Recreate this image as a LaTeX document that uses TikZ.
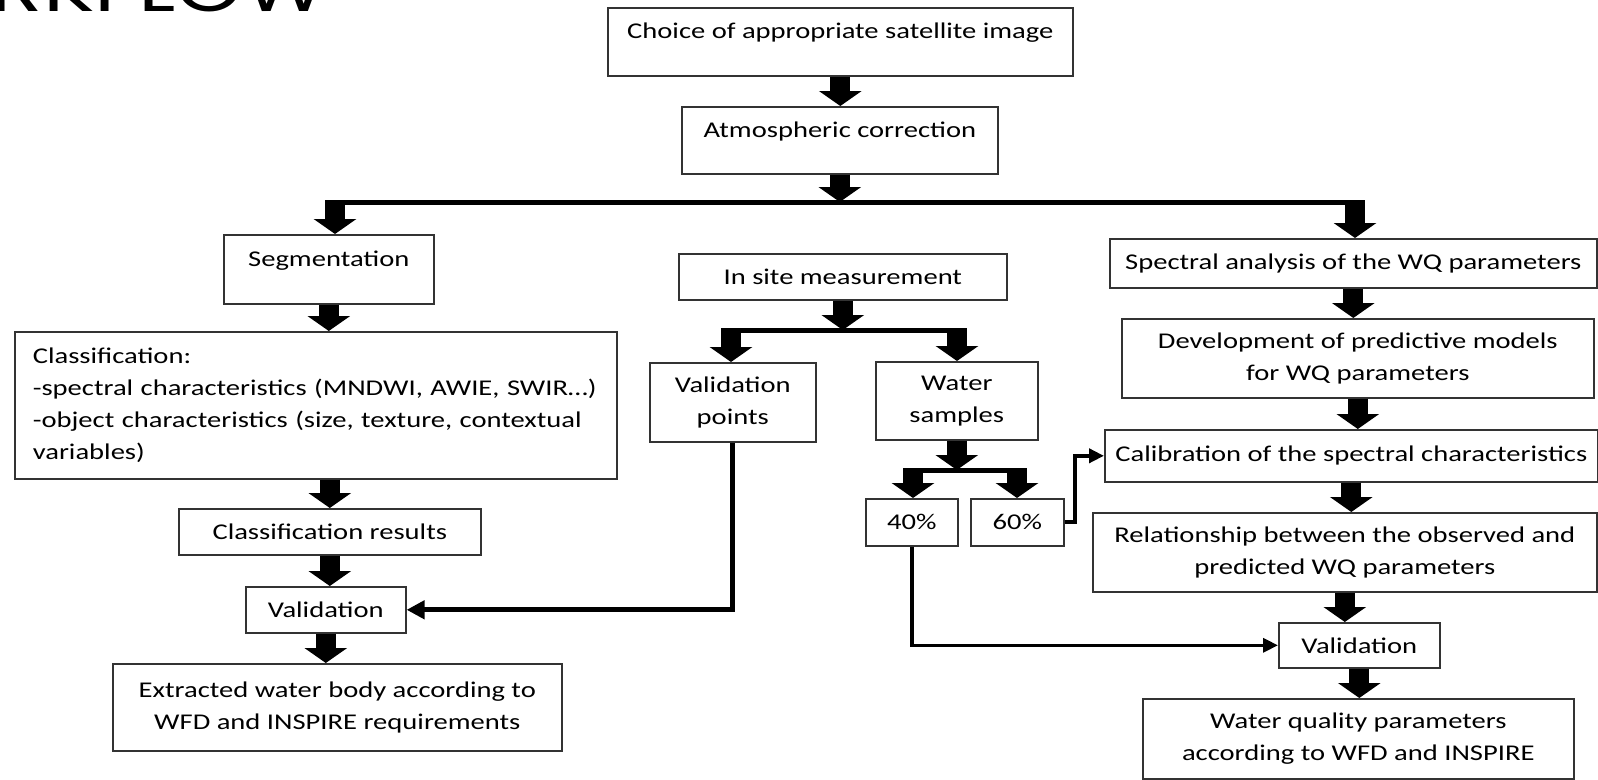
\documentclass[tikz,border=0pt]{standalone}
\usepackage{fontspec}
\setmainfont[FakeStretch=1.27]{Carlito}
\newfontfamily\titlefont[FakeStretch=1.27]{Poppins}
\usetikzlibrary{arrows.meta}

\tikzset{
  box/.style={draw=black!80, line width=1.6pt, inner sep=0pt, align=center, anchor=north west, text=black, font=\fontsize{22.5}{32}\selectfont},
  blk/.style={line width=20pt, -{Triangle[length=15pt,width=42pt]}},
  bar/.style={line width=5pt},
  conn/.style={line width=4pt, -{Triangle[length=15pt,width=14pt]}},
}

\begin{document}
\begin{tikzpicture}[x=1pt,y=-1pt]
\useasboundingbox (0,0) rectangle (1598,779);

\node [anchor=base east, inner sep=0pt, font=\titlefont\fontsize{68}{68}\selectfont] (ttl) at (328,12) {WORKFLOW};

\node [box, minimum width=465pt, minimum height=68pt] (choice) at (607,7) {Choice of appropriate satellite image\\[-10pt]\mbox{}};
\node [box, minimum width=316pt, minimum height=67pt] (atmos) at (681,106) {Atmospheric correction\\[-10pt]\mbox{}};

\node [box, minimum width=210pt, minimum height=69pt] (seg) at (223,234) {Segmentation\\[-10pt]\mbox{}};
\node [box, align=left, text width=566pt, inner xsep=18pt, minimum height=147pt] (cls) at (14,331) {Classification:\\-spectral characteristics (MNDWI, AWIE, SWIR…)\\-object characteristics (size, texture, contextual\\variables)};
\node [box, minimum width=302pt, minimum height=46pt] (res) at (178,508) {Classification results};
\node [box, minimum width=160pt, minimum height=46pt] (val) at (245,586) {Validation};
\node [box, minimum width=449pt, minimum height=87pt] (ext) at (112,663) {Extracted water body according to\\WFD and INSPIRE requirements};

\node [box, minimum width=328pt, minimum height=46pt] (ism) at (678,253) {In site measurement};
\node [box, minimum width=166pt, minimum height=79pt] (vp) at (649,362) {Validation\\points};
\node [box, minimum width=162pt, minimum height=78pt] (ws) at (875,361) {Water\\samples};
\node [box, minimum width=92pt, minimum height=47pt] (p40) at (865,498) {40\%};
\node [box, minimum width=93pt, minimum height=47pt] (p60) at (970,498) {60\%};

\node [box, minimum width=487pt, minimum height=49pt] (spa) at (1109,238) {Spectral analysis of the WQ parameters};
\node [box, minimum width=472pt, minimum height=79pt] (dev) at (1121,318) {Development of predictive models\\for WQ parameters};
\node [box, minimum width=493pt, minimum height=52pt] (cal) at (1104,429) {Calibration of the spectral characteristics};
\node [box, minimum width=504pt, minimum height=79pt] (rel) at (1092,512) {Relationship between the observed and\\predicted WQ parameters};
\node [box, minimum width=161pt, minimum height=45pt] (valr) at (1278,622) {Validation};
\node [box, minimum width=431pt, minimum height=80pt] (wq) at (1142,698) {Water quality parameters\\according to WFD and INSPIRE};

\coordinate (splitL) at (335,202);
\coordinate (splitR) at (1355,202);
\coordinate (ismL) at (731,330);
\coordinate (ismR) at (957,330);
\coordinate (wsL) at (913,470);
\coordinate (wsR) at (1017,470);

\draw [blk] (choice.south) -- (choice.south |- atmos.north);
\draw [blk] (atmos.south) -- (atmos.south |- splitL);
\draw [bar] ([xshift=-10pt]splitL) -- ([xshift=10pt]splitR);
\draw [blk] (splitL) -- (splitL |- seg.north);
\draw [blk] (splitR) -- (splitR |- spa.north);

\draw [blk] (seg.south) -- (seg.south |- cls.north);
\draw [blk] (res.north |- cls.south) -- (res.north);
\draw [blk] (res.south) -- (res.south |- val.north);
\draw [blk] (val.south) -- (val.south |- ext.north);

\draw [blk] (ism.south) -- (ism.south |- ismL);
\draw [bar] ([xshift=-10pt]ismL) -- ([xshift=10pt]ismR);
\draw [blk] (ismL) -- (ismL |- vp.north);
\draw [blk] (ismR) -- (ismR |- ws.north);
\draw [blk] (ws.south) -- (ws.south |- wsL);
\draw [bar] ([xshift=-10pt]wsL) -- ([xshift=10pt]wsR);
\draw [blk] (wsL) -- (wsL |- p40.north);
\draw [blk] (wsR) -- (wsR |- p60.north);

\draw [blk] (spa.south) -- (spa.south |- dev.north);
\draw [blk] (dev.south) -- (dev.south |- cal.north);
\draw [blk] (cal.south) -- (cal.south |- rel.north);
\draw [blk] (rel.south) -- (rel.south |- valr.north);
\draw [blk] (valr.south) -- (valr.south |- wq.north);

\draw [conn, line width=5pt, -{Triangle[length=18pt,width=18pt]}] (vp.south) |- (val.east);
\draw [conn, line width=3.5pt] (p40.south) |- (valr.west);
\draw [conn] (p60.east) -- ++(10,0) |- (cal.west);
\end{tikzpicture}
\end{document}
